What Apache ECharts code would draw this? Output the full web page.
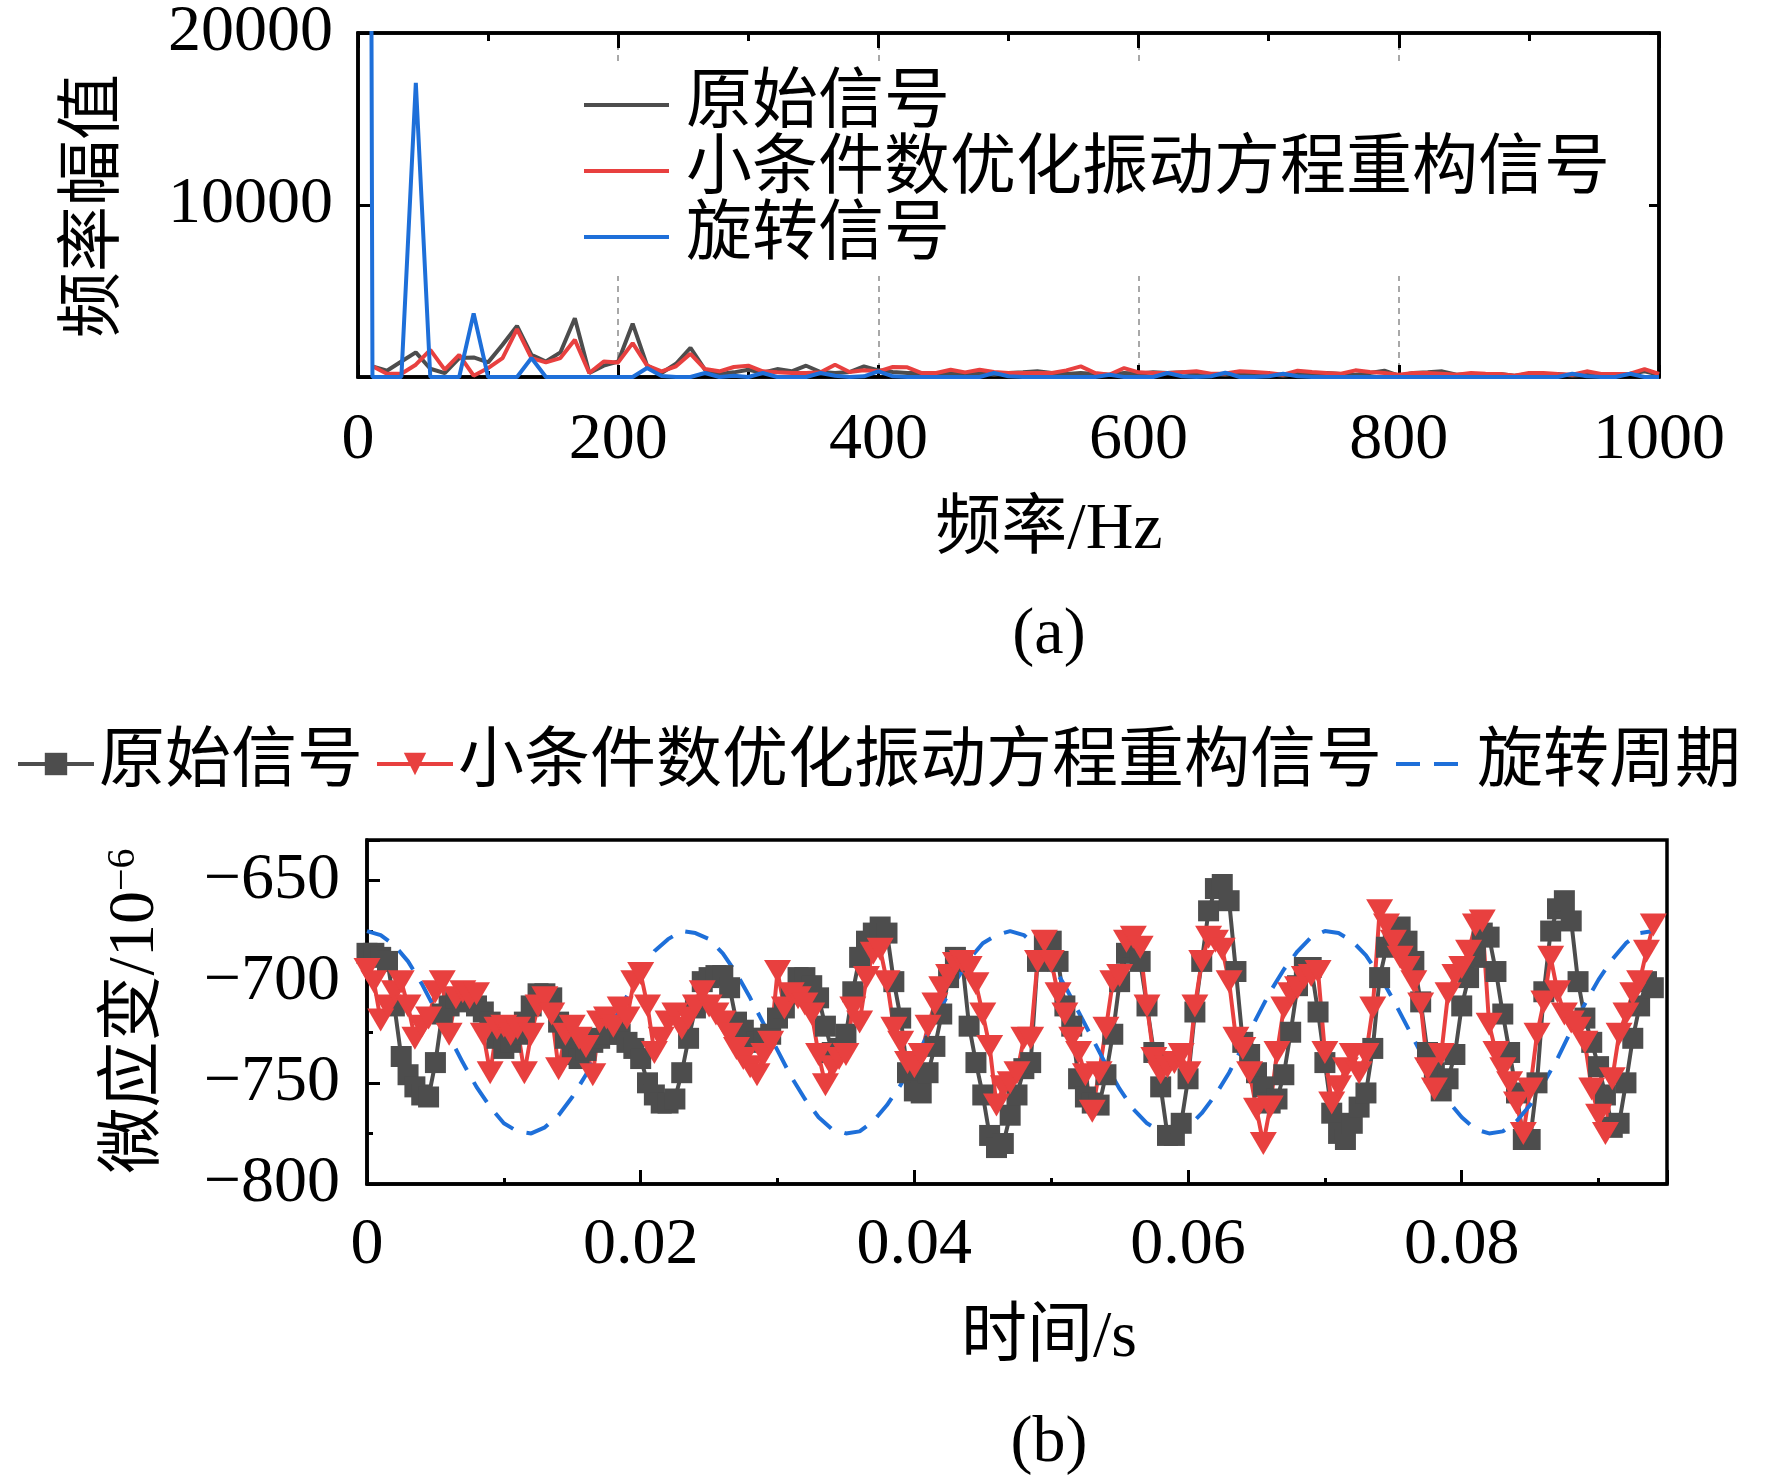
<!DOCTYPE html>
<html>
<head>
<meta charset="utf-8">
<script src="https://cdn.jsdelivr.net/npm/echarts@6/dist/echarts.min.js"></script>
<style>
html, body { margin: 0; padding: 0; background: #fff; }
#chart { width: 1772px; height: 1484px; }
</style>
</head>
<body>
<div id="chart"></div>
<script>
// (a) 频谱：谱线间隔 1000/90 Hz
const freqStep = 1000 / 90;
// 原始信号，从第 1 条谱线开始
const rawSpec = [
  620, 367, 900, 1430, 480, 230, 1100, 1140, 850, 1870,
  2970, 1290, 900, 1430, 3420, 230, 660, 900, 3100, 660,
  230, 770, 1700, 425, 175, 270, 425, 250, 460, 330,
  655, 290, 230, 290, 620, 386, 290, 230, 230, 230,
  190, 230, 230, 135, 230, 270, 330, 230, 175, 230,
  175, 135, 230, 190, 270, 230, 270, 190, 175, 135,
  230, 135, 175, 77, 190, 230, 230, 175, 135, 230,
  367, 77, 230, 270, 330, 135, 175, 135, 175, 77,
  175, 135, 175, 77, 135, 175, 135, 175, 330, 135
];
// 小条件数优化振动方程重构信号
const recSpec = [
  620, 190, 190, 715, 1580, 425, 1290, 77, 520, 1100,
  2780, 1100, 850, 1100, 2160, 230, 900, 850, 1970, 660,
  330, 620, 1350, 460, 330, 580, 660, 330, 270, 230,
  230, 270, 715, 290, 386, 330, 580, 560, 230, 230,
  425, 270, 425, 290, 230, 230, 230, 230, 386, 620,
  230, 135, 520, 270, 230, 230, 270, 330, 190, 210,
  330, 290, 230, 135, 367, 290, 230, 190, 386, 290,
  230, 135, 230, 230, 190, 135, 230, 190, 175, 77,
  230, 230, 175, 135, 330, 175, 175, 190, 460, 175
];
// 旋转信号，从第 0 条谱线开始（直流分量远超坐标上限）
const rotSpec = [
  300000, 0, 0, 0, 17100, 0, 0, 0, 3700, 0,
  0, 0, 1100, 0, 0, 0, 0, 0, 0, 0,
  520, 60, 0, 0, 230, 0, 77, 0, 230, 0,
  0, 0, 230, 77, 0, 40, 330, 40, 0, 0,
  0, 0, 0, 0, 230, 40, 0, 0, 0, 0,
  0, 0, 135, 0, 0, 0, 230, 40, 0, 40,
  250, 0, 0, 40, 190, 40, 0, 0, 0, 0,
  0, 0, 0, 0, 0, 0, 0, 0, 0, 0,
  0, 0, 0, 0, 190, 40, 0, 0, 190, 0, 0
];

// (b) 时域：采样间隔 0.0005 s
const dt = 0.0005;
const rawStrain = [
  -686, -686, -688, -690, -712, -737, -746, -752, -756, -757,
  -740, -716, -712, -708, -710, -709, -712, -715, -720, -728,
  -733, -730, -726, -720, -712, -706, -706, -708, -720, -728,
  -736, -738, -734, -730, -728, -726, -722, -726, -730, -733,
  -738, -750, -756, -760, -760, -758, -745, -728, -713, -700,
  -698, -697, -697, -703, -720, -724, -728, -730, -728, -726,
  -718, -713, -706, -698, -698, -702, -708, -722, -735, -733,
  -726, -705, -688, -680, -676, -673, -676, -700, -718, -745,
  -754, -755, -745, -732, -716, -698, -688, -690, -722, -740,
  -756, -776, -782, -780, -766, -756, -743, -740, -690, -682,
  -680, -690, -712, -722, -748, -757, -760, -761, -746, -726,
  -700, -686, -683, -690, -712, -735, -752, -776, -776, -770,
  -748, -715, -690, -665, -654, -652, -660, -695, -730, -736,
  -745, -752, -760, -758, -746, -725, -702, -693, -693, -715,
  -740, -765, -775, -778, -770, -762, -755, -733, -698, -683,
  -676, -673, -680, -690, -710, -735, -745, -754, -748, -736,
  -712, -698, -688, -676, -678, -695, -716, -735, -755, -778,
  -778, -750, -705, -675, -664, -660, -670, -700, -718, -730,
  -742, -756, -772, -770, -750, -728, -712, -700, -703
];
const recStrain = [
  -694, -700, -719, -712, -705, -700, -712, -728, -722, -718,
  -705, -700, -726, -708, -705, -708, -706, -726, -745, -723,
  -722, -726, -723, -745, -726, -712, -708, -716, -743, -726,
  -722, -728, -732, -746, -720, -718, -722, -713, -718, -700,
  -696, -712, -735, -728, -720, -716, -723, -718, -712, -705,
  -712, -716, -720, -726, -733, -738, -742, -746, -736, -730,
  -695, -713, -706, -708, -711, -716, -736, -751, -742, -738,
  -736, -713, -720, -698, -686, -684, -700, -723, -730, -740,
  -742, -736, -722, -711, -703, -697, -691, -690, -693, -701,
  -716, -732, -761, -752, -750, -745, -728, -728, -690, -680,
  -690, -706, -716, -728, -735, -746, -764, -745, -723, -700,
  -697, -680, -678, -683, -712, -738, -745, -742, -740, -736,
  -745, -712, -690, -678, -680, -684, -700, -728, -733, -745,
  -763, -780, -762, -735, -713, -706, -703, -698, -697, -695,
  -735, -760, -752, -743, -736, -745, -736, -713, -665, -672,
  -680, -688, -693, -700, -711, -743, -753, -736, -706, -697,
  -693, -685, -672, -670, -721, -735, -743, -750, -760, -775,
  -753, -726, -710, -688, -705, -716, -720, -723, -730, -753,
  -766, -775, -748, -726, -716, -706, -700, -685, -672
];
// 旋转周期，间隔 0.001 s
const periodStep = 0.001;
const rotPeriod = [
  -675, -677, -682, -690, -701, -714, -727, -740, -752, -762,
  -770, -774, -775, -772, -766, -757, -746, -733, -720, -707,
  -695, -685, -679, -675, -676, -679, -686, -696, -708, -721,
  -734, -747, -758, -767, -773, -775, -774, -769, -761, -751,
  -739, -726, -712, -700, -689, -681, -677, -675, -677, -683,
  -691, -702, -715, -728, -741, -753, -763, -770, -774, -775,
  -772, -765, -756, -745, -732, -718, -705, -694, -685, -678,
  -675, -676, -680, -687, -697, -709, -722, -735, -748, -759,
  -767, -773, -775, -774, -769, -761, -750, -738, -724, -711,
  -699, -689, -681, -676, -675
];

const specNames = ['原始信号', '小条件数优化振动方程重构信号', '旋转信号'];
const timeNames = ['原始信号', '小条件数优化振动方程重构信号', '旋转周期'];

const FONT = "'Liberation Serif', 'Noto Sans CJK SC', serif";
const C_RAW = '#4d4d4d';
const C_REC = '#e8403f';
const C_ROT = '#1e6fd9';
const LINE_W = 3.5;

function labelStyle(extra) {
  return Object.assign({ color: '#000', fontSize: 66, fontFamily: FONT }, extra);
}
function axisLine() {
  return { show: true, onZero: false, lineStyle: { color: '#000', width: LINE_W } };
}
function tick(len) {
  return { show: true, inside: true, length: len, lineStyle: { color: '#000', width: 3 } };
}

const chart = echarts.init(document.getElementById('chart'), null, { renderer: 'canvas' });

chart.setOption({
  animation: false,
  backgroundColor: '#fff',
  grid: [
    { left: 358, top: 33, width: 1301, height: 344, show: true, borderColor: '#000', borderWidth: LINE_W, outerBoundsMode: 'none' },
    { left: 367, top: 840, width: 1300, height: 344, show: true, borderColor: '#000', borderWidth: LINE_W, outerBoundsMode: 'none' }
  ],
  xAxis: [
    {
      gridIndex: 0, type: 'value', position: 'bottom', min: 0, max: 1000, interval: 200,
      axisLine: axisLine(), axisTick: tick(12),
      minorTick: { show: true, splitNumber: 2, length: 6, lineStyle: { color: '#000', width: 3 } },
      axisLabel: labelStyle({ margin: 31, formatter: v => String(v) }),
      splitLine: { show: true, lineStyle: { color: '#8c8c8c', width: 1.5, type: [6, 5] } }
    },
    {
      gridIndex: 0, type: 'value', position: 'top', min: 0, max: 1000, interval: 200,
      axisLine: axisLine(), axisTick: tick(15),
      minorTick: { show: true, splitNumber: 2, length: 8, lineStyle: { color: '#000', width: 3 } },
      axisLabel: { show: false }, splitLine: { show: false }
    },
    {
      gridIndex: 1, type: 'value', position: 'bottom', min: 0, max: 0.095, interval: 0.02,
      axisLine: axisLine(), axisTick: tick(14),
      axisLabel: labelStyle({
        margin: 29,
        formatter: v => (v > 0.0901 ? '' : String(+v.toFixed(2)))
      }),
      splitLine: { show: false }
    },
    {
      gridIndex: 1, type: 'value', position: 'bottom', min: 0, max: 0.095, interval: 0.01,
      axisLine: { show: false }, axisTick: tick(6),
      axisLabel: { show: false }, splitLine: { show: false }
    }
  ],
  yAxis: [
    {
      gridIndex: 0, type: 'value', position: 'left', min: 0, max: 20000, interval: 10000,
      axisLine: axisLine(), axisTick: tick(14),
      axisLabel: labelStyle({ margin: 25, formatter: v => (v === 0 ? '' : String(v)) }),
      splitLine: { show: false }
    },
    {
      gridIndex: 0, type: 'value', position: 'right', min: 0, max: 20000, interval: 10000,
      axisLine: axisLine(), axisTick: tick(10),
      axisLabel: { show: false }, splitLine: { show: false }
    },
    {
      gridIndex: 1, type: 'value', position: 'left', min: -800, max: -630, interval: 50,
      axisLine: axisLine(), axisTick: tick(13),
      axisLabel: labelStyle({
        margin: 27,
        formatter: v => (v % 50 !== 0 ? '' : (v < 0 ? '\u2212' + Math.abs(v) : String(v)))
      }),
      splitLine: { show: false }
    },
    {
      gridIndex: 1, type: 'value', position: 'left', min: -800, max: -630, interval: 25,
      axisLine: { show: false }, axisTick: tick(6),
      axisLabel: { show: false }, splitLine: { show: false }
    }
  ],
  legend: [
    {
      // 图(a)图例：只画线段，不画标记
      data: specNames.map(n => ({ name: n, itemStyle: { opacity: 0 } })),
      orient: 'vertical',
      left: 576, top: 66,
      itemWidth: 85, itemHeight: 20, itemGap: 0,
      padding: [6, 16, 6, 6],
      backgroundColor: '#fff',
      selectedMode: false,
      lineStyle: { width: 4 },
      textStyle: labelStyle({ lineHeight: 66, padding: [0, 0, 0, 12] })
    },
    {
      data: [
        { name: 'b:' + timeNames[0] },
        { name: 'b:' + timeNames[1] },
        { name: 'b:' + timeNames[2], itemStyle: { opacity: 0 } }
      ],
      formatter: name => name.slice(2),
      orient: 'horizontal',
      left: 16, top: 731,
      itemWidth: 76, itemHeight: 28, itemGap: 12,
      padding: 0,
      selectedMode: false,
      lineStyle: { width: 4 },
      textStyle: labelStyle({ lineHeight: 66 })
    }
  ],
  series: [
    {
      name: specNames[0], type: 'line', xAxisIndex: 0, yAxisIndex: 0,
      data: rawSpec.map((v, i) => [(i + 1) * freqStep, v]),
      symbol: 'none', lineStyle: { color: C_RAW, width: 4 }, itemStyle: { color: C_RAW }
    },
    {
      name: specNames[1], type: 'line', xAxisIndex: 0, yAxisIndex: 0,
      data: recSpec.map((v, i) => [(i + 1) * freqStep, v]),
      symbol: 'none', lineStyle: { color: C_REC, width: 4 }, itemStyle: { color: C_REC }
    },
    {
      name: specNames[2], type: 'line', xAxisIndex: 0, yAxisIndex: 0,
      data: rotSpec.map((v, i) => [i * freqStep, v]),
      symbol: 'none', lineStyle: { color: C_ROT, width: 4 }, itemStyle: { color: C_ROT }
    },
    {
      name: 'b:' + timeNames[0], type: 'line', xAxisIndex: 2, yAxisIndex: 2,
      data: rawStrain.map((v, i) => [i * dt, v]),
      symbol: 'rect', symbolSize: 21,
      lineStyle: { color: C_RAW, width: 4 }, itemStyle: { color: C_RAW }
    },
    {
      name: 'b:' + timeNames[1], type: 'line', xAxisIndex: 2, yAxisIndex: 2,
      data: recStrain.map((v, i) => [i * dt, v]),
      symbol: 'triangle', symbolRotate: 180, symbolSize: [27, 23],
      lineStyle: { color: C_REC, width: 4 }, itemStyle: { color: C_REC }
    },
    {
      name: 'b:' + timeNames[2], type: 'line', xAxisIndex: 2, yAxisIndex: 2,
      data: rotPeriod.map((v, i) => [i * periodStep, v]),
      symbol: 'none',
      lineStyle: { color: C_ROT, width: 4, type: [24, 14] }, itemStyle: { color: C_ROT }
    }
  ],
  graphic: [
    { type: 'text', x: 96, y: 206, rotation: Math.PI / 2,
      style: { text: '频率幅值', font: '66px ' + FONT, fill: '#000', textAlign: 'center', textVerticalAlign: 'middle' } },
    { type: 'text', x: 1049, y: 531,
      style: { text: '频率/Hz', font: '66px ' + FONT, fill: '#000', textAlign: 'center', textVerticalAlign: 'middle' } },
    { type: 'text', x: 1049, y: 636,
      style: { text: '(a)', font: '66px ' + FONT, fill: '#000', textAlign: 'center', textVerticalAlign: 'middle' } },
    { type: 'text', x: 136, y: 1011, rotation: Math.PI / 2,
      style: {
        text: '微应变/10{s|\u22126}', fontSize: 66, fontFamily: FONT, fill: '#000',
        textAlign: 'center', textVerticalAlign: 'middle',
        rich: { s: { fontSize: 40, fontFamily: FONT, fill: '#000', verticalAlign: 'top' } }
      } },
    { type: 'text', x: 1049, y: 1339,
      style: { text: '时间/s', font: '66px ' + FONT, fill: '#000', textAlign: 'center', textVerticalAlign: 'middle' } },
    { type: 'text', x: 1049, y: 1444,
      style: { text: '(b)', font: '66px ' + FONT, fill: '#000', textAlign: 'center', textVerticalAlign: 'middle' } }
  ]
});
</script>
</body>
</html>
